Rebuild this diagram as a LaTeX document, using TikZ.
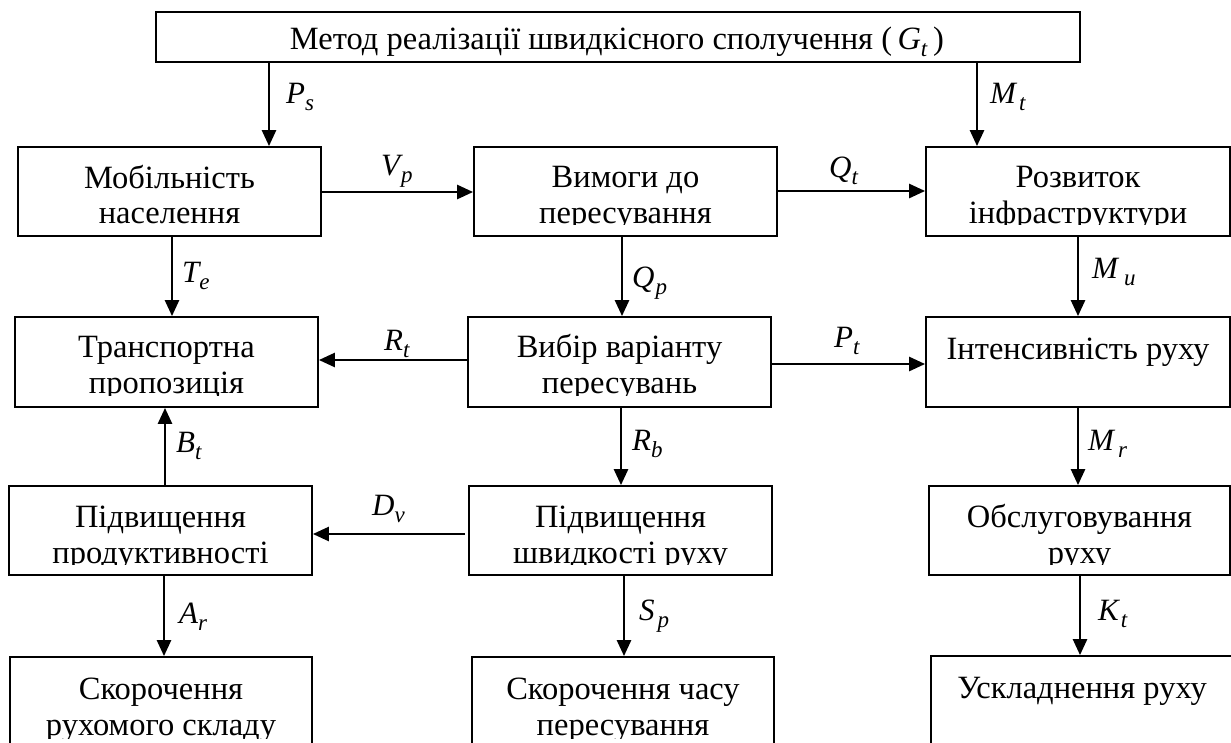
\documentclass[tikz,border=0pt]{standalone}
\usepackage{fontspec}
\setmainfont{Liberation Serif}
\usetikzlibrary{arrows.meta}
\newcommand\mylab[3]{#1\kern#3pt\raisebox{-7.5pt}{\fontsize{23}{23}\selectfont #2}}
\newcommand\mybox[5]{%
  \node[box, minimum width={(#4-#2)*1pt}, minimum height={(#5-#3)*1pt}] (#1) at ({(#2+#4)/2},{(#3+#5)/2}) {};}
\tikzset{
  box/.style={draw, line width=1.8pt, rectangle, inner sep=0pt},
  arr/.style={line width=2.6pt, -{Triangle[length=16pt,width=14pt]}},
  boxtxt/.style={anchor=base, inner sep=0pt, font=\fontsize{32.5}{36}\selectfont},
  lab/.style={anchor=base west, inner sep=0pt, font=\fontsize{31}{32}\selectfont\itshape},
}
\begin{document}
\begin{tikzpicture}[x=1pt,y=-1pt]
\clip (0,0) rectangle (1231,742);
\fill[white] (0,0) rectangle (1231,742);
% boxes
\mybox{top}{156}{12}{1080}{62}
\mybox{mob}{18}{147}{321}{236}
\mybox{vym}{474}{147}{777}{236}
\mybox{roz}{926}{147}{1230}{236}
\mybox{tr}{15}{317}{318}{407}
\mybox{vyb}{468}{317}{771}{407}
\mybox{int}{926}{317}{1230}{407}
\mybox{pp}{9}{486}{312}{575}
\mybox{ps}{469}{486}{772}{575}
\mybox{obs}{929}{486}{1230}{575}
\mybox{sr}{10}{657}{312}{800}
\mybox{sc}{472}{657}{774}{800}
\mybox{usk}{931}{656}{1240}{800}
% texts
\node[boxtxt] (topT) at (617,49) {Метод реалізації швидкісного сполучення (\,\textit{G}\raisebox{-7pt}{\fontsize{23}{23}\selectfont\textit{t}}\,)};
\begin{scope}\clip (18,147) rectangle (321,224.5);
\node[boxtxt] (mobA) at (169.5,188) {Мобільність};
\node[boxtxt] (mobB) at (169.5,223) {населення};
\end{scope}
\begin{scope}\clip (474,147) rectangle (777,224.5);
\node[boxtxt] (vymA) at (625.5,187) {Вимоги до};
\node[boxtxt] (vymB) at (625.5,223) {пересування};
\end{scope}
\begin{scope}\clip (926,147) rectangle (1230,224.5);
\node[boxtxt] (rozA) at (1078,187) {Розвиток};
\node[boxtxt] (rozB) at (1078,223) {інфраструктури};
\end{scope}
\begin{scope}\clip (15,317) rectangle (318,395);
\node[boxtxt] (trA) at (166.5,357) {Транспортна};
\node[boxtxt] (trB) at (166.5,393) {пропозиція};
\end{scope}
\begin{scope}\clip (468,317) rectangle (771,395);
\node[boxtxt] (vybA) at (619.5,357) {Вибір варіанту};
\node[boxtxt] (vybB) at (619.5,393) {пересувань};
\end{scope}
\node[boxtxt] (intA) at (1078,359) {Інтенсивність руху};
\begin{scope}\clip (9,486) rectangle (312,564);
\node[boxtxt] (ppA) at (160.5,527) {Підвищення};
\node[boxtxt] (ppB) at (160.5,563) {продуктивності};
\end{scope}
\begin{scope}\clip (469,486) rectangle (772,564);
\node[boxtxt] (psA) at (620.5,527) {Підвищення};
\node[boxtxt] (psB) at (620.5,563) {швидкості руху};
\end{scope}
\begin{scope}\clip (929,486) rectangle (1230,564);
\node[boxtxt] (obsA) at (1079.5,527) {Обслуговування};
\node[boxtxt] (obsB) at (1079.5,563) {руху};
\end{scope}
\begin{scope}\clip (10,657) rectangle (312,738);
\node[boxtxt] (srA) at (161,699) {Скорочення};
\node[boxtxt] (srB) at (161,735) {рухомого складу};
\end{scope}
\begin{scope}\clip (472,657) rectangle (774,738);
\node[boxtxt] (scA) at (623,699) {Скорочення часу};
\node[boxtxt] (scB) at (623,735) {пересування};
\end{scope}
\node[boxtxt] (uskA) at (1082,698) {Ускладнення руху};
% arrow columns / rows
\coordinate (cPs) at (269,0);
\coordinate (cMt) at (977,0);
\coordinate (cVp) at (0,192);
\coordinate (cQt) at (0,191);
\coordinate (cTe) at (172,0);
\coordinate (cQp) at (622,0);
\coordinate (cMu) at (1078,0);
\coordinate (cRt) at (0,360);
\coordinate (cPt) at (0,364);
\coordinate (cBt) at (165,0);
\coordinate (cRb) at (621,0);
\coordinate (cMr) at (1078,0);
\coordinate (cDv) at (0,534);
\coordinate (cAr) at (164,0);
\coordinate (cSp) at (624,0);
\coordinate (cKt) at (1080,0);
% arrows
\draw[arr] (top.south -| cPs) -- (mob.north -| cPs);
\draw[arr] (top.south -| cMt) -- (roz.north -| cMt);
\draw[arr] (mob.east |- cVp) -- (vym.west |- cVp);
\draw[arr] (vym.east |- cQt) -- (roz.west |- cQt);
\draw[arr] (mob.south -| cTe) -- (tr.north -| cTe);
\draw[arr] (vym.south -| cQp) -- (vyb.north -| cQp);
\draw[arr] (roz.south -| cMu) -- (int.north -| cMu);
\draw[arr] (vyb.west |- cRt) -- (tr.east |- cRt);
\draw[arr] (vyb.east |- cPt) -- (int.west |- cPt);
\draw[arr] (pp.north -| cBt) -- (tr.south -| cBt);
\draw[arr] (vyb.south -| cRb) -- (ps.north -| cRb);
\draw[arr] (int.south -| cMr) -- (obs.north -| cMr);
\draw[arr, shorten <=3pt] (ps.west |- cDv) -- (pp.east |- cDv);
\draw[arr] (pp.south -| cAr) -- (sr.north -| cAr);
\draw[arr] (ps.south -| cSp) -- (sc.north -| cSp);
\draw[arr] (obs.south -| cKt) -- (usk.north -| cKt);
% labels
\node[lab] (lPs) at (286,103) {\mylab{P}{s}{0}};
\node[lab] (lMt) at (990,103) {\mylab{M}{t}{3}};
\node[lab] (lVp) at (381,175) {\mylab{V}{p}{1}};
\node[lab] (lQt) at (829,177) {\mylab{Q}{t}{0}};
\node[lab] (lTe) at (182,282) {\mylab{T}{e}{0}};
\node[lab] (lQp) at (632,287) {\mylab{Q}{p}{1}};
\node[lab] (lMu) at (1092,278) {\mylab{M}{u}{6}};
\node[lab] (lRt) at (384,350) {\mylab{R}{t}{0}};
\node[lab] (lPt) at (834,347) {\mylab{P}{t}{0}};
\node[lab] (lBt) at (176,452) {\mylab{B}{t}{0}};
\node[lab] (lRb) at (632,450) {\mylab{R}{b}{0}};
\node[lab] (lMr) at (1088,450) {\mylab{M}{r}{4}};
\node[lab] (lDv) at (372,515) {\mylab{D}{v}{0}};
\node[lab] (lAr) at (179,623) {\mylab{A}{r}{0}};
\node[lab] (lSp) at (639,620) {\mylab{S}{p}{3}};
\node[lab] (lKt) at (1098,620) {\mylab{K}{t}{2}};
\end{tikzpicture}
\end{document}
